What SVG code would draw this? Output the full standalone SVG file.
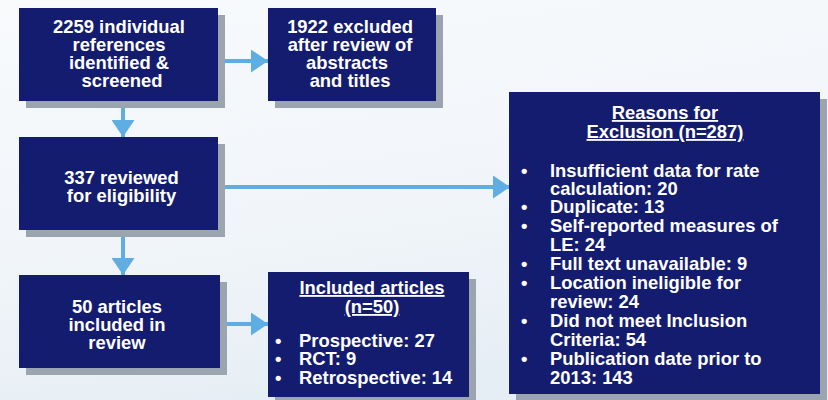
<svg xmlns="http://www.w3.org/2000/svg" width="828" height="400" viewBox="0 0 828 400">
  <defs>
    <linearGradient id="bg" x1="0" y1="0" x2="0.3" y2="1">
      <stop offset="0" stop-color="#f8fafc"/>
      <stop offset="0.6" stop-color="#f1f5f9"/>
      <stop offset="1" stop-color="#e6eef5"/>
    </linearGradient>
    <marker id="ah" markerUnits="userSpaceOnUse" markerWidth="17" markerHeight="23" viewBox="0 0 17 23" refX="17" refY="11.5" orient="auto">
      <path d="M0,0 L17,11.5 L0,23 Z" fill="#5eaee3"/>
    </marker>
    <style>
      .box { fill: #141c6f; }
      .sh { fill: #9ba5b0; }
      .t { font-family: "Liberation Sans", Arial, sans-serif; font-weight: bold; font-size: 18.4px; fill: #ffffff; }
      .c { text-anchor: middle; }
      .u { text-decoration: underline; }
      .conn { stroke: #5eaee3; stroke-width: 4; fill: none; marker-end: url(#ah); }
    </style>
  </defs>
  <rect x="0" y="0" width="828" height="400" fill="url(#bg)"/>

  <g id="connectors">
    <path class="conn" d="M218,61 L268,61"/>
    <path class="conn" d="M123,101 L123,137"/>
    <path class="conn" d="M218,187 L510,187"/>
    <path class="conn" d="M123,230 L123,275"/>
    <path class="conn" d="M220,324 L268,324"/>
  </g>

  <g id="n1">
    <rect class="sh" x="26" y="15" width="199" height="93"/>
    <rect class="box" x="19" y="8" width="199" height="93"/>
    <text class="t c" x="119" y="33">2259 individual</text>
    <text class="t c" x="119" y="51">references</text>
    <text class="t c" x="119" y="69">identified &amp;</text>
    <text class="t c" x="122" y="87">screened</text>
  </g>

  <g id="n2">
    <rect class="sh" x="275" y="15" width="168" height="93"/>
    <rect class="box" x="268" y="8" width="168" height="93"/>
    <text class="t c" x="350" y="33">1922 excluded</text>
    <text class="t c" x="350" y="51">after review of</text>
    <text class="t c" x="347" y="69">abstracts</text>
    <text class="t c" x="350" y="87">and titles</text>
  </g>

  <g id="n3">
    <rect class="sh" x="26" y="144" width="199" height="93"/>
    <rect class="box" x="19" y="137" width="199" height="93"/>
    <text class="t c" x="121.5" y="184">337 reviewed</text>
    <text class="t c" x="121.5" y="202">for eligibility</text>
  </g>

  <g id="n4">
    <rect class="sh" x="26" y="282" width="201" height="93"/>
    <rect class="box" x="19" y="275" width="201" height="93"/>
    <text class="t c" x="117" y="313">50 articles</text>
    <text class="t c" x="117" y="331">included in</text>
    <text class="t c" x="117" y="349">review</text>
  </g>

  <g id="n5">
    <rect class="sh" x="275" y="279" width="201" height="125"/>
    <rect class="box" x="268" y="272" width="201" height="125"/>
    <text class="t c u" x="372" y="294">Included articles</text>
    <text class="t c u" x="372" y="313">(n=50)</text>
    <text class="t" x="275" y="347">•</text>
    <text class="t" x="299" y="347">Prospective: 27</text>
    <text class="t" x="275" y="365">•</text>
    <text class="t" x="299" y="365">RCT: 9</text>
    <text class="t" x="275" y="384">•</text>
    <text class="t" x="299" y="384">Retrospective: 14</text>
  </g>

  <g id="n6">
    <rect class="sh" x="516" y="99" width="311" height="302"/>
    <rect class="box" x="509" y="92" width="311" height="302"/>
    <text class="t c u" x="665" y="119">Reasons for</text>
    <text class="t c u" x="665" y="138">Exclusion (n=287)</text>
    <g class="t">
      <text x="521" y="177">•</text>
      <text x="550" y="177">Insufficient data for rate</text>
      <text x="550" y="195">calculation: 20</text>
      <text x="521" y="213">•</text>
      <text x="550" y="213">Duplicate: 13</text>
      <text x="521" y="232">•</text>
      <text x="550" y="232">Self-reported measures of</text>
      <text x="550" y="251">LE: 24</text>
      <text x="521" y="270">•</text>
      <text x="550" y="270">Full text unavailable: 9</text>
      <text x="521" y="289">•</text>
      <text x="550" y="289">Location ineligible for</text>
      <text x="550" y="308">review: 24</text>
      <text x="521" y="327">•</text>
      <text x="550" y="327">Did not meet Inclusion</text>
      <text x="550" y="346">Criteria: 54</text>
      <text x="521" y="365">•</text>
      <text x="550" y="365">Publication date prior to</text>
      <text x="550" y="384">2013: 143</text>
    </g>
  </g>
</svg>
